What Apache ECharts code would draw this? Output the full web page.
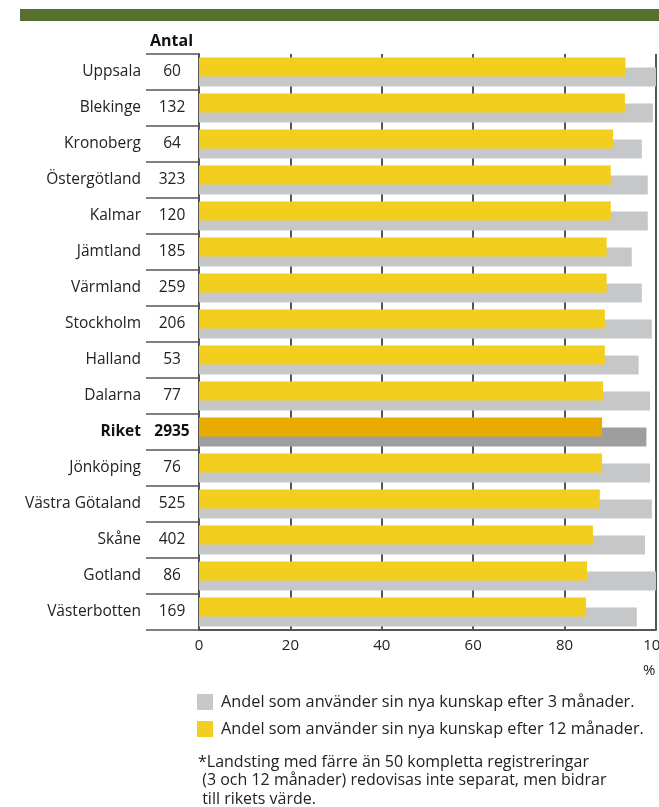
<!DOCTYPE html>
<html>
<head>
<meta charset="utf-8">
<script src="https://cdn.jsdelivr.net/npm/echarts@6/dist/echarts.min.js"></script>
<style>
  html, body { margin: 0; padding: 0; background: #fff; }
  #chart { width: 659px; height: 807px; }
</style>
</head>
<body>
<div id="chart"></div>
<script>
// landsting, uppifrån och ner
var regions = ["Uppsala", "Blekinge", "Kronoberg", "Östergötland", "Kalmar", "Jämtland", "Värmland",
  "Stockholm", "Halland", "Dalarna", "Riket", "Jönköping", "Västra Götaland", "Skåne", "Gotland", "Västerbotten"];
var antal = [60, 132, 64, 323, 120, 185, 259, 206, 53, 77, 2935, 76, 525, 402, 86, 169];
// andel efter 12 månader (gul)
var efter12 = [93.3, 93.2, 90.6, 90.1, 90.1, 89.2, 89.2, 88.8, 88.8, 88.4, 88.2, 88.2, 87.7, 86.2, 84.9, 84.7];
// andel efter 3 månader (grå)
var efter3 = [100, 99.3, 96.9, 98.2, 98.2, 94.7, 96.9, 99.1, 96.2, 98.7, 97.9, 98.7, 99.1, 97.6, 100, 95.8];
var xTicks = [0, 20, 40, 60, 80, 100];

var name3 = "Andel som använder sin nya kunskap efter 3 månader.";
var name12 = "Andel som använder sin nya kunskap efter 12 månader.";
var font = "Open Sans";

var yellow = "#F2CE1E", yellowDark = "#E8AC00";
var grey = "#C6C7C9", greyDark = "#9E9E9E";

function mark(values, dark){
  return values.map(function(v, i){
    return regions[i] === "Riket" ? { value: v, itemStyle: { color: dark } } : v;
  });
}

var chart = echarts.init(document.getElementById("chart"));
chart.setOption({
  animation: false,
  textStyle: { fontFamily: font },
  grid: { left: 199, right: 3, top: 54, height: 576, containLabel: false, outerBoundsMode: "none" },
  xAxis: {
    type: "value", min: 0, max: 100, interval: 20,
    axisLine: { show: true, lineStyle: { color: "#555", width: 2 } },
    axisTick: { show: false },
    splitLine: { show: true, lineStyle: { color: "#555", width: 2 } },
    axisLabel: { color: "#222", fontSize: 15, margin: 8, fontFamily: font,
      formatter: function(v){ return xTicks.indexOf(v) >= 0 ? String(v) : ""; } }
  },
  yAxis: [
    { // namn
      type: "category", data: regions, inverse: true, position: "left",
      axisLine: { show: false }, axisTick: { show: false },
      axisLabel: {
        margin: 58, align: "right", fontSize: 15.5, color: "#222", fontFamily: font,
        formatter: function(v){ return v === "Riket" ? "{b|" + v + "}" : v; },
        rich: { b: { fontWeight: "bold", fontSize: 15.5, color: "#111", fontFamily: font } }
      }
    },
    { // antal
      type: "category", data: regions, inverse: true, position: "left", offset: 0,
      axisLine: { show: true, lineStyle: { color: "#555", width: 2 } },
      axisTick: { show: true, length: 53, lineStyle: { color: "#555", width: 1.5 } },
      axisLabel: {
        margin: 27, align: "center", fontSize: 15.5, color: "#222", fontFamily: font,
        formatter: function(v){
          var k = regions.indexOf(v);
          return v === "Riket" ? "{b|" + antal[k] + "}" : String(antal[k]);
        },
        rich: { b: { fontWeight: "bold", fontSize: 15.5, color: "#111", fontFamily: font } }
      }
    }
  ],
  legend: {
    orient: "vertical", left: 192, top: 689,
    itemWidth: 16, itemHeight: 16, itemGap: 11,
    icon: "rect",
    data: [name3, name12],
    textStyle: { fontSize: 16.3, color: "#222", fontFamily: font, padding: [0, 0, 0, 3] }
  },
  series: [
    {
      name: name12, type: "bar", yAxisIndex: 0, data: mark(efter12, yellowDark),
      itemStyle: { color: yellow }, barWidth: 19, barGap: "-47%", z: 3
    },
    {
      name: name3, type: "bar", yAxisIndex: 0, data: mark(efter3, greyDark),
      itemStyle: { color: grey }, barWidth: 19, z: 2
    }
  ],
  graphic: [
    { type: "rect", left: 20, top: 9, shape: { width: 639, height: 12 }, style: { fill: "#56702F" } },
    { type: "text", left: 150, top: 33, style: { text: "Antal", fontSize: 16, fontWeight: "bold", fill: "#111", fontFamily: font } },
    { type: "text", left: 643, top: 663, style: { text: "%", fontSize: 15, fill: "#222", fontFamily: font } },
    { type: "text", left: 198, top: 753, style: {
      text: "*Landsting med färre än 50 kompletta registreringar\n (3 och 12 månader) redovisas inte separat, men bidrar\n till rikets värde.",
      fontSize: 16, lineHeight: 18.5, fill: "#222", fontFamily: font } }
  ]
});
</script>
</body>
</html>
